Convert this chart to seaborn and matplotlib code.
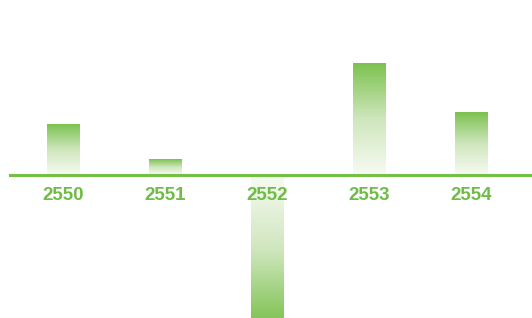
import numpy as np
import pandas as pd
import matplotlib
matplotlib.use('Agg')
import matplotlib.pyplot as plt
import seaborn as sns
from matplotlib.colors import LinearSegmentedColormap

# values
years = ['2550', '2551', '2552', '2553', '2554']
values = [5.1, 1.6, -15.0, 11.2, 6.3]

green = '#74bf45'
label_green = '#6fbc46'

df = pd.DataFrame({'year': years, 'value': values})

sns.set_style('white')
plt.rcParams['font.family'] = ['Liberation Sans', 'DejaVu Sans']

fig = plt.figure(figsize=(5.32, 3.18), dpi=100)
ax = fig.add_axes([9 / 532, 0, 523 / 532, 1])

sns.barplot(data=df, x='year', y='value', width=0.32, color=green, ax=ax)

# gradient fill: green at the bar end, fading to white at the baseline
cmap = LinearSegmentedColormap.from_list('fade', ['#f7fbf3', '#cfe6bd', '#7cc24f'])
grad = np.linspace(0, 1, 256).reshape(-1, 1)
for bar in ax.patches:
    x0 = bar.get_x()
    w = bar.get_width()
    h = bar.get_height()
    y0 = bar.get_y()
    bar.set_facecolor('none')
    bar.set_edgecolor('none')
    img = grad if h >= 0 else grad[::-1]
    im = ax.imshow(img, cmap=cmap, aspect='auto', origin='lower',
                   extent=(x0, x0 + w, min(y0, y0 + h), max(y0, y0 + h)),
                   zorder=1)
    im.set_clip_path(bar)

ax.set_xlim(-0.534, 4.593)
ax.set_ylim(-14.3, 17.5)
ax.axhline(0, color=green, lw=2.2, zorder=3)

for i, yr in enumerate(years):
    ax.annotate(yr, xy=(i, 0), xytext=(0, -14.5), textcoords='offset points',
                ha='center', va='center', fontsize=13.5, fontweight='bold',
                color=label_green, zorder=4)

ax.set_axis_off()
fig.savefig('out.png', dpi=100)
